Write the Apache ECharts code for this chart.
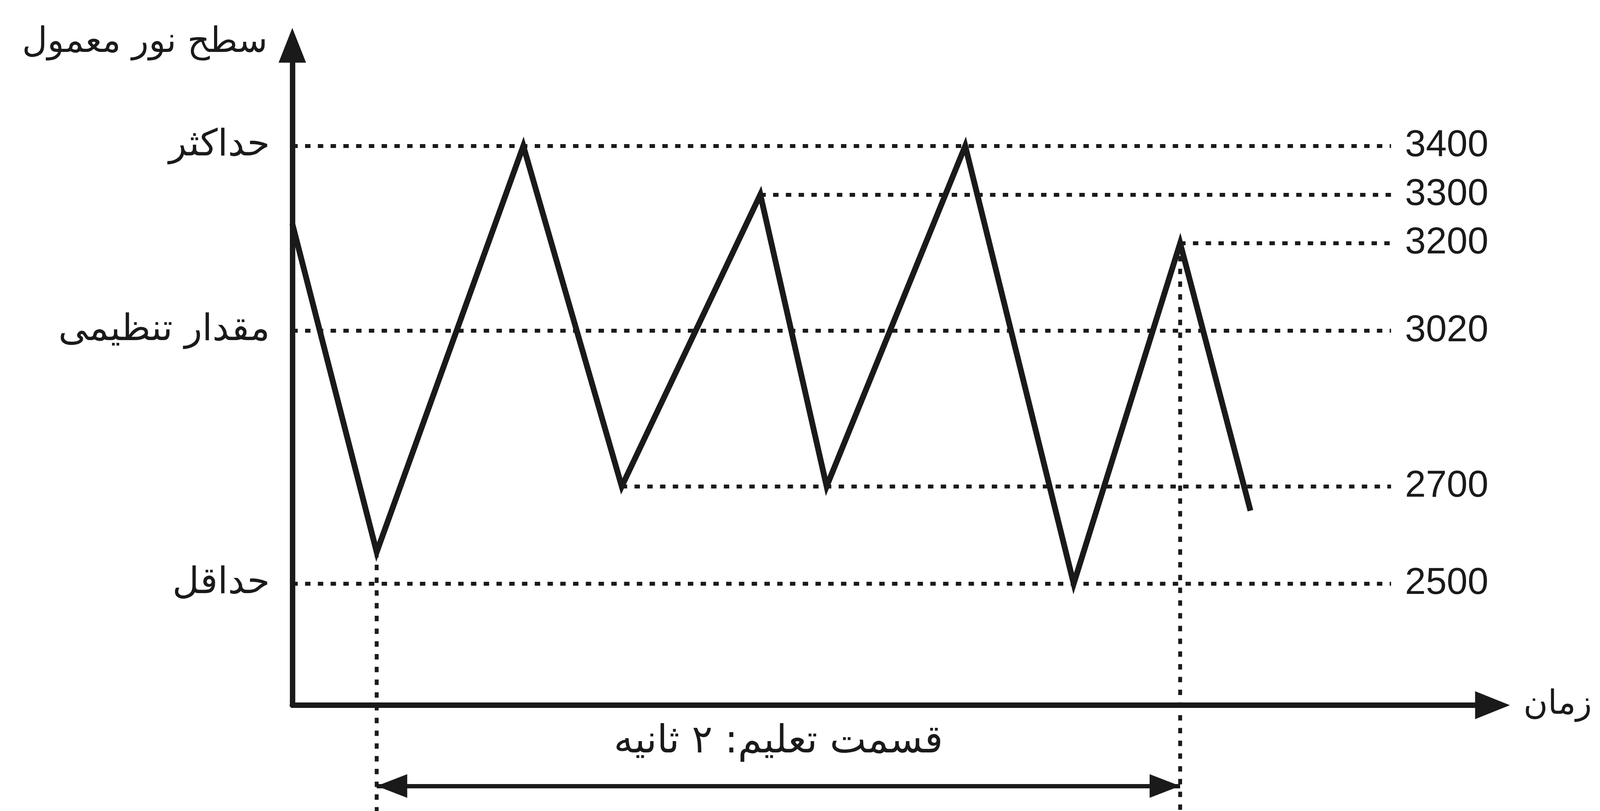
<!DOCTYPE html>
<html><head><meta charset="utf-8">
<script src="https://cdn.jsdelivr.net/npm/echarts@6/dist/echarts.min.js"></script>
<style>html,body{margin:0;padding:0;background:#fff;overflow:hidden;width:100%;height:100%}#c{width:100vw;height:100vh}</style>
</head><body><div id="c"></div>
<script>
// ---- data ----
const timeSec    = [0, 0.21, 0.575, 0.82, 1.165, 1.33, 1.675, 1.945, 2.21, 2.385];
const lightLevel = [3240, 2565, 3400, 2700, 3300, 2700, 3400, 2500, 3200, 2650];
const levelValues    = [3400, 3300, 3200, 3020, 2700, 2500];
const levelStartTime = [0, 1.165, 2.21, 0, 0.82, 0];
const levelNames     = ['حداکثر', '', '', 'مقدار تنظیمی', '', 'حداقل'];
const levelEndTime = 2.735;
const guideTimes  = [0.21, 2.21];
const guideLevels = [2565, 3200];
const trainingStart = 0.21, trainingEnd = 2.21;
const trainingLabel = 'قسمت تعلیم: ۲ ثانیه';
const yTitle = 'سطح نور معمول';
const xTitle = 'زمان';

// ---- layout (designed for 4138 x 2077, scaled to the actual viewport) ----
const el = document.getElementById('c');
const W = el.clientWidth || 4138, HH = el.clientHeight || 2077;
const kx = W / 4138, ky = HH / 2077, kf = Math.min(kx, ky);
const H0 = 2077;
const G = {left: 756, right: 278, top: 116, bottom: 271};
const X_MAX = 2.9875, Y_MAX = 3607, Y_MIN = 2250;
const plotH = H0 - G.top - G.bottom;
const unitPerPx = (Y_MAX - Y_MIN) / plotH;
const Y1_MIN = Y_MAX - (H0 - G.top) * unitPerPx;       // full-height overlay grid, same scale
const barLevel = Y_MAX - (2013 - G.top) * unitPerPx;   // vertical place of the training bar

const INK = '#1a1a1a';
const arabicFont = 'DejaVu Sans';
const dotted = {color: INK, width: 10 * kf, type: [14 * kf, 19 * kf], cap: 'butt'};

const valueLines = levelValues.map((v, i) => [
  {coord: [levelStartTime[i], v], label: {show: true, position: 'end', distance: 36 * kx, formatter: String(v),
    fontFamily: 'Liberation Sans', fontSize: 97 * kf, color: INK}},
  {coord: [levelEndTime, v]}
]);
const nameLines = [];
levelValues.forEach((v, i) => {
  if (!levelNames[i]) return;
  nameLines.push([
    {coord: [levelStartTime[i], v],
     label: {show: true, position: 'start', distance: 58 * kx, formatter: levelNames[i],
       fontFamily: arabicFont, fontSize: 95 * kf, color: INK}},
    {coord: [levelEndTime, v]}
  ]);
});

const chart = echarts.init(el, null, {renderer: 'canvas'});
chart.setOption({
  animation: false,
  backgroundColor: '#ffffff',
  grid: [
    {left: G.left * kx, right: G.right * kx, top: G.top * ky, bottom: G.bottom * ky},
    {left: G.left * kx, right: G.right * kx, top: G.top * ky, bottom: 0}
  ],
  xAxis: [
    {type: 'value', gridIndex: 0, min: 0, max: X_MAX,
     name: xTitle, nameLocation: 'end', nameGap: 80 * kx,
     nameTextStyle: {fontFamily: arabicFont, fontSize: 86 * kf, color: INK, align: 'left', verticalAlign: 'middle'},
     axisLine: {show: true, lineStyle: {color: INK, width: 14 * kf}, symbol: ['none', 'triangle'], symbolSize: [72 * kf, 90 * kf]},
     axisTick: {show: false}, axisLabel: {show: false}, splitLine: {show: false}},
    {type: 'value', gridIndex: 1, min: 0, max: X_MAX, show: false}
  ],
  yAxis: [
    {type: 'value', gridIndex: 0, min: Y_MIN, max: Y_MAX,
     name: yTitle, nameLocation: 'end', nameGap: 6 * ky,
     nameTextStyle: {fontFamily: arabicFont, fontSize: 90 * kf, color: INK, align: 'right', verticalAlign: 'middle', padding: [0, 64 * kx, 0, 0]},
     axisLine: {show: true, lineStyle: {color: INK, width: 14 * kf}, symbol: ['none', 'triangle'], symbolSize: [71 * kf, 90 * kf]},
     axisTick: {show: false}, axisLabel: {show: false}, splitLine: {show: false}},
    {type: 'value', gridIndex: 1, min: Y1_MIN, max: Y_MAX, show: false}
  ],
  series: [
    {type: 'line', name: 'levels', xAxisIndex: 0, yAxisIndex: 0, data: [], silent: true, z: 2,
     markLine: {silent: true, symbol: ['none', 'none'], lineStyle: dotted, data: valueLines}},
    {type: 'line', name: 'levelNames', xAxisIndex: 0, yAxisIndex: 0, data: [], silent: true, z: 1,
     markLine: {silent: true, symbol: ['none', 'none'], lineStyle: {color: 'rgba(0,0,0,0)', width: 1}, data: nameLines}},
    {type: 'line', name: 'guide0', xAxisIndex: 1, yAxisIndex: 1, silent: true, z: 2, symbol: 'none',
     lineStyle: dotted, data: [[guideTimes[0], guideLevels[0]], [guideTimes[0], Y1_MIN]],
     markLine: {silent: true, symbol: ['triangle', 'triangle'], symbolSize: [61 * kf, 79 * kf],
       symbolOffset: [[0, 39.5 * kf], [0, 39.5 * kf]],
       lineStyle: {color: INK, width: 11 * kf, type: 'solid'},
       label: {show: true, position: 'insideMiddleTop', distance: 62 * ky, formatter: trainingLabel,
         fontFamily: arabicFont, fontSize: 100 * kf, lineHeight: 100 * kf, color: INK},
       data: [[{coord: [trainingStart, barLevel], symbolOffset: [0, 39.5 * kf]},
               {coord: [trainingEnd, barLevel], symbolOffset: [0, 39.5 * kf]}]]}},
    {type: 'line', name: 'guide1', xAxisIndex: 1, yAxisIndex: 1, silent: true, z: 2, symbol: 'none',
     lineStyle: dotted, data: [[guideTimes[1], guideLevels[1]], [guideTimes[1], Y1_MIN]]},
    {type: 'line', name: 'light', xAxisIndex: 0, yAxisIndex: 0, z: 5, symbol: 'none', silent: true,
     lineStyle: {color: INK, width: 15 * kf, join: 'miter', miterLimit: 20},
     data: timeSec.map((t, i) => [t, lightLevel[i]])}
  ]
});
</script></body></html>
